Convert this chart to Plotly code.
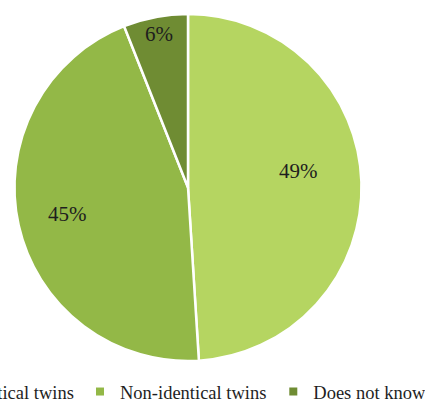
import math
import plotly.graph_objects as go

labels = ["Identical twins", "Non-identical twins", "Does not know"]
values = [49, 45, 6]
colors = ["#b5d561", "#93b847", "#6f8c33"]

# label placement: fraction of radius, and angular nudge (deg) from each slice's bisector
label_r = [0.645, 0.71, 0.90]
label_dang = [-6.5, 0.0, 0.0]

# legend item left edges (px)
legend_left = [-75.6, 80.0, 273.3]

FONT = "Liberation Serif, Times New Roman, serif"
W, H = 425, 401
MB = 30                      # bottom margin (legend area)
GH = H - MB                  # plot-area height
CX, CY, R = 188, 187.5, 173.5

fig = go.Figure()
fig.add_trace(go.Pie(
    labels=labels, values=values, sort=False, direction="clockwise", rotation=0,
    marker=dict(colors=colors, line=dict(color="white", width=2.5)),
    textinfo="none", showlegend=False, hoverinfo="label+percent",
    domain=dict(x=[(CX - R) / W, (CX + R) / W], y=[1 - (CY + R) / GH, 1 - (CY - R) / GH]),
))

# percentage labels placed along slice bisectors (angles derived from the values)
total = sum(values)
cum = 0
for v, rf, da in zip(values, label_r, label_dang):
    mid = (cum + v / 2) / total * 2 * math.pi + math.radians(da)
    cum += v
    px = CX + rf * R * math.sin(mid)
    py = CY - rf * R * math.cos(mid)
    fig.add_annotation(
        x=px / W, y=1 - py / GH, xref="paper", yref="paper",
        text=f"{round(v / total * 100)}%", showarrow=False,
        font=dict(family=FONT, size=21, color="#1e1e1e"),
        xanchor="center", yanchor="middle",
    )

# legend entries (one per slice), each in its own legend box
legend_names = ["legend", "legend2", "legend3"]
for lab, col, lg in zip(labels, colors, legend_names):
    fig.add_trace(go.Scatter(
        x=[None], y=[None], mode="markers", name=lab,
        marker=dict(symbol="square", color=col, size=8),
        legend=lg, showlegend=True, hoverinfo="skip",
    ))

legend_style = dict(
    orientation="h", xanchor="left", y=(GH - 392) / GH, yanchor="middle",
    font=dict(family=FONT, size=18.5, color="#1e1e1e"),
    bgcolor="rgba(0,0,0,0)", itemclick=False, itemdoubleclick=False,
)
fig.update_layout(
    width=W, height=H,
    margin=dict(l=0, r=0, t=0, b=MB, autoexpand=False),
    paper_bgcolor="white", plot_bgcolor="white",
    xaxis=dict(visible=False), yaxis=dict(visible=False),
    showlegend=True,
    **{lg: dict(x=xl / W, **legend_style) for lg, xl in zip(legend_names, legend_left)},
)

fig.write_html("out.html", config={"displayModeBar": False},
               post_script="document.body.style.margin='0';")
